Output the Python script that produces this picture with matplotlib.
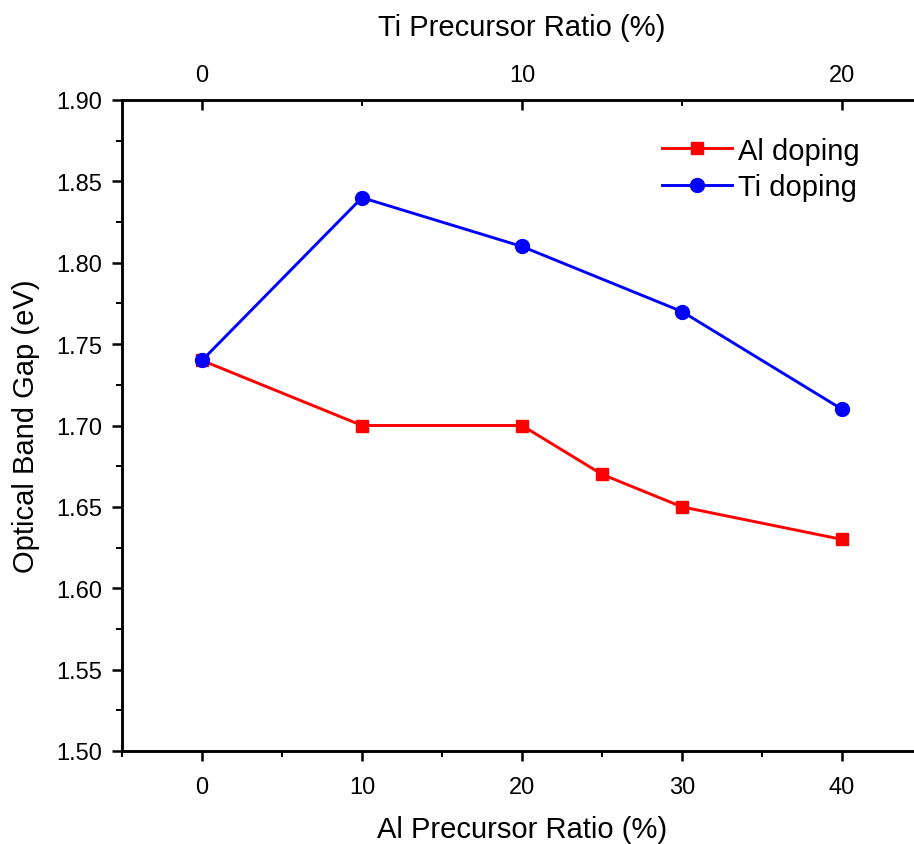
import matplotlib.pyplot as plt
from matplotlib.ticker import MultipleLocator

plt.rcParams['font.family'] = ['Liberation Sans', 'DejaVu Sans']

# Al series (bottom axis) and Ti series (top axis)
al_ratio = [0, 10, 20, 25, 30, 40]
al_gap = [1.74, 1.70, 1.70, 1.67, 1.65, 1.63]
ti_ratio = [0, 5, 10, 15, 20]
ti_gap = [1.74, 1.84, 1.81, 1.77, 1.71]

W, H = 914, 845
fig = plt.figure(figsize=(W / 100, H / 100), dpi=100)
ax = fig.add_axes([122 / W, (H - 752) / H, 800 / W, 651 / H])
ax2 = ax.twiny()

l1, = ax.plot(al_ratio, al_gap, color='#ff0000', lw=2.1, marker='s', ms=9,
              label='Al doping', zorder=3)
l2, = ax2.plot(ti_ratio, ti_gap, color='#0000ff', lw=2.1, marker='o', ms=10,
               label='Ti doping', zorder=4)

ax.set_xlim(-5, 45)
ax2.set_xlim(-2.5, 22.5)
ax.set_ylim(1.50, 1.90)

ax.xaxis.set_major_locator(MultipleLocator(10))
ax.xaxis.set_minor_locator(MultipleLocator(5))
ax.yaxis.set_major_locator(MultipleLocator(0.05))
ax.yaxis.set_minor_locator(MultipleLocator(0.025))
ax.yaxis.set_major_formatter(plt.FormatStrFormatter('%.2f'))
ax2.xaxis.set_major_locator(MultipleLocator(10))
ax2.xaxis.set_minor_locator(MultipleLocator(5))

for a in (ax, ax2):
    for s in a.spines.values():
        s.set_linewidth(1.8)
ax.spines['right'].set_visible(False)
ax2.spines['right'].set_visible(False)

ax.tick_params(axis='x', which='major', direction='out', length=7,
               width=1.8, labelsize=17, pad=11)
ax.tick_params(axis='y', which='major', direction='out', length=7,
               width=1.8, labelsize=17, pad=7)
ax.tick_params(axis='both', which='minor', direction='out', length=4,
               width=1.4)
ax2.tick_params(axis='x', which='major', direction='in', length=7,
                width=1.8, labelsize=17, pad=10)
ax2.tick_params(axis='x', which='minor', direction='in', length=4, width=1.4)

ax.set_xlabel('Al Precursor Ratio (%)', fontsize=21, labelpad=12)
ax.set_ylabel('Optical Band Gap (eV)', fontsize=21, labelpad=12)
ax2.set_xlabel('Ti Precursor Ratio (%)', fontsize=21, labelpad=21)

ax2.legend(handles=[l1, l2], loc='upper left', bbox_to_anchor=(0.65, 0.975),
           frameon=False, fontsize=21, handlelength=2.4, handletextpad=0.2,
           labelspacing=0.3, borderaxespad=0.3)

fig.savefig('out.png', dpi=100)
